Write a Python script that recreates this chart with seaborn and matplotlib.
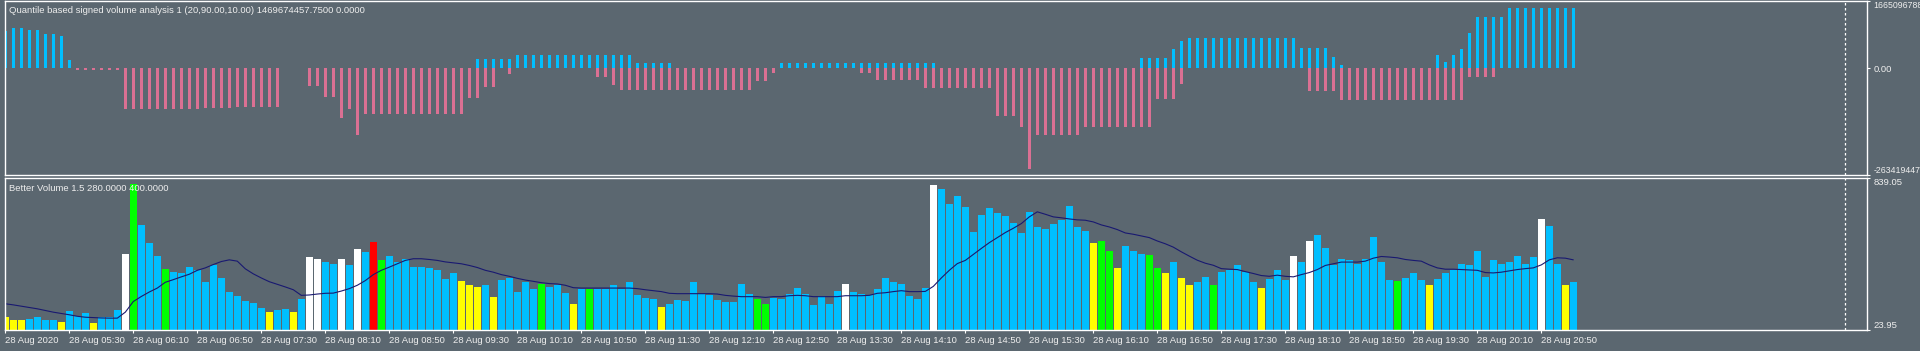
import matplotlib
matplotlib.use('Agg')
import matplotlib.pyplot as plt
import seaborn as sns
import pandas as pd

# ---- bottom panel: Better Volume (5 min bars, 28 Aug 2020 04:50 .. 21:10)
volume = [96, 80, 80, 85, 96, 80, 80, 69, 125, 101, 117, 63, 96, 96, 134, 430, 807, 586, 489, 419,
          354, 338, 328, 365, 349, 284, 371, 306, 231, 209, 182, 171, 144, 123, 134, 139, 123, 193, 414, 403,
          387, 381, 403, 371, 457, 441, 495, 398, 419, 392, 408, 365, 365, 360, 349, 301, 333, 290, 268, 257,
          268, 204, 295, 306, 231, 284, 247, 274, 257, 268, 225, 166, 247, 247, 247, 247, 268, 247, 284, 214,
          198, 193, 150, 166, 187, 182, 284, 220, 214, 187, 177, 177, 274, 220, 193, 166, 198, 193, 220, 252,
          220, 160, 209, 166, 236, 274, 231, 220, 214, 247, 306, 284, 274, 209, 193, 252, 802, 780, 699, 742,
          683, 548, 640, 678, 651, 635, 597, 543, 656, 575, 565, 592, 613, 689, 575, 554, 489, 500, 451, 360,
          473, 451, 430, 425, 360, 328, 392, 306, 268, 284, 311, 268, 338, 344, 371, 338, 284, 252, 301, 349,
          295, 419, 392, 500, 532, 462, 376, 403, 398, 381, 408, 521, 387, 295, 290, 306, 328, 295, 268, 301,
          333, 344, 381, 371, 451, 311, 398, 381, 392, 419, 381, 414, 618, 581, 381, 268, 284]

vol_class = ("YYYBBBBYBBBYBBBWGBBBG" "BBBBBBBBBBBB" "YBBYBWWBBWBWBRG" "BBBBBBBBB" "YYY"
             "BYBBBBBGBBBYBG" "BBBBBBBB" "Y" "BBBBBBBBBBB" "GG" "BBBBBBBBB" "W" "BBBBBBBBBB" "W" "BBB"
             "BBBBBBBBBBBBBBBB" "YGGYBBBGGYBYYBBG" "BBBBB" "Y" "BBB" "WBW" "BBBBBBBBBB" "G" "BBB" "Y" "B"
             "BBBBBBBBBBBB" "WBBYB")

vol_ma = [166, 160, 153, 146, 139, 130, 121, 114, 107, 99, 94, 92, 90, 89, 89, 121, 178, 205, 229, 250,
          281, 295, 310, 324, 345, 358, 376, 392, 401, 394, 353, 326, 304, 284, 270, 256, 241, 211, 213, 218,
          222, 223, 234, 247, 265, 290, 322, 345, 362, 380, 398, 407, 407, 403, 398, 390, 385, 380, 371, 360,
          345, 335, 322, 313, 302, 293, 286, 279, 274, 272, 265, 252, 250, 250, 250, 250, 250, 250, 250, 247,
          241, 236, 231, 222, 220, 220, 220, 220, 220, 218, 211, 207, 204, 204, 204, 200, 204, 204, 209, 211,
          209, 204, 204, 204, 204, 209, 209, 209, 211, 222, 225, 231, 236, 231, 231, 232, 259, 304, 345, 381,
          398, 430, 462, 493, 520, 547, 570, 595, 631, 658, 645, 631, 626, 620, 615, 613, 604, 588, 577, 563,
          545, 538, 529, 520, 502, 487, 469, 444, 421, 399, 383, 372, 354, 351, 349, 338, 328, 317, 313, 319,
          313, 310, 322, 333, 349, 371, 380, 389, 389, 389, 394, 410, 419, 416, 412, 403, 398, 394, 374, 358,
          351, 351, 349, 347, 345, 333, 331, 335, 342, 349, 354, 358, 374, 401, 412, 410, 401]

# ---- top panel: signed volume, billions
sv_pos = [9.25, 10.0, 10.0, 9.5, 9.5, 8.5, 8.5, 8.0, 2.0] + [0] * 50 + \
         [2.25] * 5 + [3.25] * 15 + [1.25] * 5 + [0] * 13 + [1.25] * 20 + [0] * 25 + \
         [2.5] * 4 + [4.75, 6.75] + [7.5] * 14 + [5.0] * 4 + [2.75, 0.75] + [0] * 11 + \
         [3.25, 1.5, 3.25, 4.75, 8.75] + [12.75] * 4 + [15.0] * 9
sv_neg = [0] * 9 + [-0.5] * 6 + [-10.0] * 10 + [-9.75] * 4 + [-9.5] * 6 + [0] * 3 + \
         [-4.25] * 2 + [-7.0] * 2 + [-12.25, -10.0, -16.5] + [-11.25] * 13 + [-7.25] * 2 + \
         [-4.5] * 2 + [0, -1.5] + [0] * 10 + [-2.25] * 2 + [-4.0] + [-5.25] * 17 + [-3.0] * 2 + \
         [-1.25] + [0] * 10 + [-1.25] * 2 + [-2.75] * 6 + [-4.75] * 9 + [-11.75] * 3 + \
         [-14.5, -24.75] + [-16.5] * 6 + [-14.5] * 9 + [-7.5] * 3 + [-3.75] + [0] * 15 + \
         [-5.5] * 4 + [-7.75] * 16 + [-2.25] * 4 + [0] * 10

tick_labels = ['28 Aug 2020', '28 Aug 05:30', '28 Aug 06:10', '28 Aug 06:50', '28 Aug 07:30',
               '28 Aug 08:10', '28 Aug 08:50', '28 Aug 09:30', '28 Aug 10:10', '28 Aug 10:50',
               '28 Aug 11:30', '28 Aug 12:10', '28 Aug 12:50', '28 Aug 13:30', '28 Aug 14:10',
               '28 Aug 14:50', '28 Aug 15:30', '28 Aug 16:10', '28 Aug 16:50', '28 Aug 17:30',
               '28 Aug 18:10', '28 Aug 18:50', '28 Aug 19:30', '28 Aug 20:10', '28 Aug 20:50']

top_range = (-26.3419447, 16.65096788)
top_labels = ['1665096788', '0.00', '-263419447']  # as shown, cut by the window edge
vol_range = (23.95, 839.05)

BG = '#5b6770'
FG = '#eeeeee'
class_colors = {'B': '#00bfff', 'Y': '#ffff00', 'G': '#00ff00', 'R': '#ff0000', 'W': '#ffffff'}

n = len(volume)
bars = pd.DataFrame({'bar': range(n), 'vol': volume, 'cls': list(vol_class), 'ma': vol_ma,
                     'pos': sv_pos, 'neg': sv_neg})

sns.set_style('ticks')
plt.rcParams['font.family'] = ['Liberation Sans', 'DejaVu Sans']
plt.rcParams['font.size'] = 6.8

fig = plt.figure(figsize=(19.2, 3.51), dpi=100, facecolor=BG)
ax1 = fig.add_axes([5 / 1920, 1 - 175 / 351, 1862 / 1920, 174 / 351])
ax2 = fig.add_axes([5 / 1920, 1 - 330.3 / 351, 1862 / 1920, 152.3 / 351])

sns.barplot(data=bars, x='bar', y='pos', color='#00bfff', saturation=1, width=0.375,
            linewidth=0, ax=ax1)
sns.barplot(data=bars, x='bar', y='neg', color='#db7093', saturation=1, width=0.375,
            linewidth=0, ax=ax1)

sns.barplot(data=bars, x='bar', y='vol', hue='cls', palette=class_colors, dodge=False,
            saturation=1, width=0.85, linewidth=0, legend=False, ax=ax2)
sns.lineplot(data=bars, x='bar', y='ma', color='#191970', linewidth=0.8, ax=ax2)

xmax = (1867 - 5.3) / 8
for ax in (ax1, ax2):
    ax.set_facecolor(BG)
    ax.set_xlim(-0.04, xmax)
    ax.set_xlabel('')
    ax.set_ylabel('')
    for s in ax.spines.values():
        s.set_visible(True)
        s.set_color('white')
        s.set_linewidth(1)
    ax.yaxis.tick_right()
    ax.tick_params(axis='y', colors='white', labelcolor=FG, length=2, pad=2.5)
    ax.axvline((1845 - 5.3) / 8, color='white', linestyle=(0, (2, 2)), linewidth=0.9)

ax1.set_ylim(*top_range)
ax1.set_xticks([])
ax1.set_yticks([top_range[1], 0, top_range[0]])
ax1.set_yticklabels(top_labels)
tl = ax1.get_yticklabels()
tl[0].set_va('top')
tl[2].set_va('bottom')
tl[0].set_fontsize(6.3)
tl[2].set_fontsize(6.3)

ax2.set_ylim(*vol_range)
ax2.set_yticks([vol_range[1], vol_range[0]])
ax2.set_yticklabels([f'{vol_range[1]:.2f}', f'{vol_range[0]:.2f}'])
tl = ax2.get_yticklabels()
tl[0].set_va('top')
tl[1].set_va('bottom')

ax2.set_xticks(range(0, n, 8))
ax2.set_xticklabels(tick_labels, ha='left')
ax2.tick_params(axis='x', colors='white', labelcolor=FG, length=2, pad=2)

ax1.text(0.002, 0.97, 'Quantile based signed volume analysis 1 (20,90.00,10.00) 1469674457.7500 0.0000',
         transform=ax1.transAxes, color=FG, va='top', ha='left')
ax2.text(0.002, 0.96, 'Better Volume 1.5 280.0000 400.0000',
         transform=ax2.transAxes, color=FG, va='top', ha='left')

fig.savefig('out.png', dpi=100, facecolor=BG)
